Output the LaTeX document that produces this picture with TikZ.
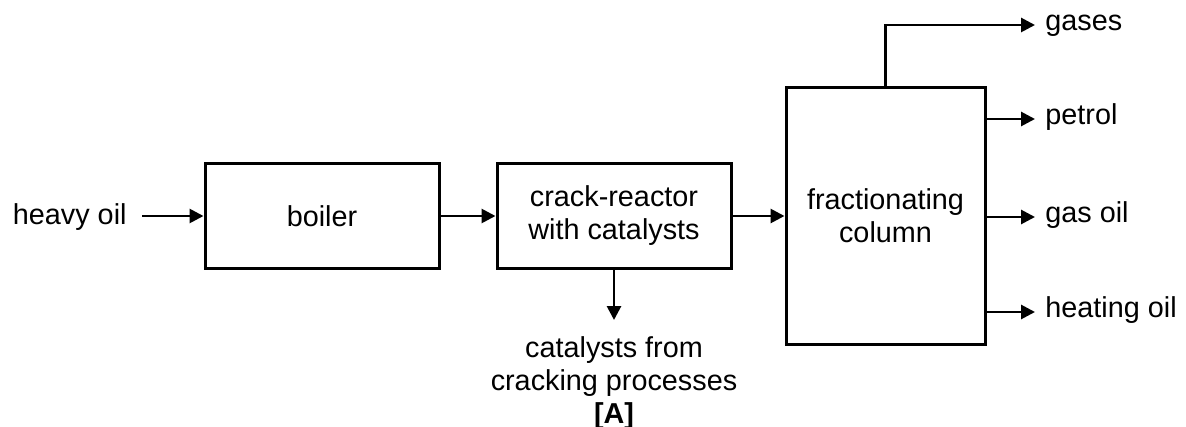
\documentclass[tikz,border=0pt]{standalone}
\usepackage{fontspec}
\setmainfont{Liberation Sans}
\usetikzlibrary{arrows.meta}
\tikzset{
  unitbox/.style={draw,line width=1.5pt,align=center,inner sep=0pt},
  flow/.style={-{Triangle[length=7pt,width=7pt]},line width=1.4pt},
  outname/.style={anchor=mid west,inner xsep=5pt,inner ysep=0pt}
}
\begin{document}
\begin{tikzpicture}[x=0.5pt,y=-0.5pt,
  every node/.style={font=\fontsize{14.4}{16.5}\selectfont}]
\useasboundingbox (0,0) rectangle (1186,427);
\node [anchor=mid east,inner xsep=7.5pt] (heavy) at (142,219) {heavy oil};
\node [unitbox,minimum width=117pt,minimum height=52.5pt] (boiler) at (322,216) {boiler};
\node [unitbox,minimum width=117pt,minimum height=52.5pt] (reactor) at (614,216) {crack-reactor\\with catalysts};
\node [unitbox,minimum width=99.5pt,minimum height=128pt] (column) at (885.5,216) {fractionating\\column};
\node [anchor=north,align=center,inner xsep=0pt,inner ysep=8pt] (spent) at (614,320)
  {catalysts from\\cracking processes\\\textbf{[A]}};
\node [outname] (gases) at (1035,25) {gases};
\node [outname] (petrol) at (1035,119) {petrol};
\node [outname] (gasoil) at (1035,217) {gas oil};
\node [outname] (heating) at (1035,312) {heating oil};
\draw [flow] (heavy.east |- boiler.west) -- (boiler.west);
\draw [flow] (boiler) -- (reactor);
\draw [flow] (reactor) -- (column);
\draw [flow] (reactor) -- (spent);
\draw [flow] (column.north) |- (gases.mid west);
\draw [flow] (column.east |- petrol.mid west) -- (petrol.mid west);
\draw [flow] (column.east |- gasoil.mid west) -- (gasoil.mid west);
\draw [flow] (column.east |- heating.mid west) -- (heating.mid west);
\end{tikzpicture}
\end{document}
